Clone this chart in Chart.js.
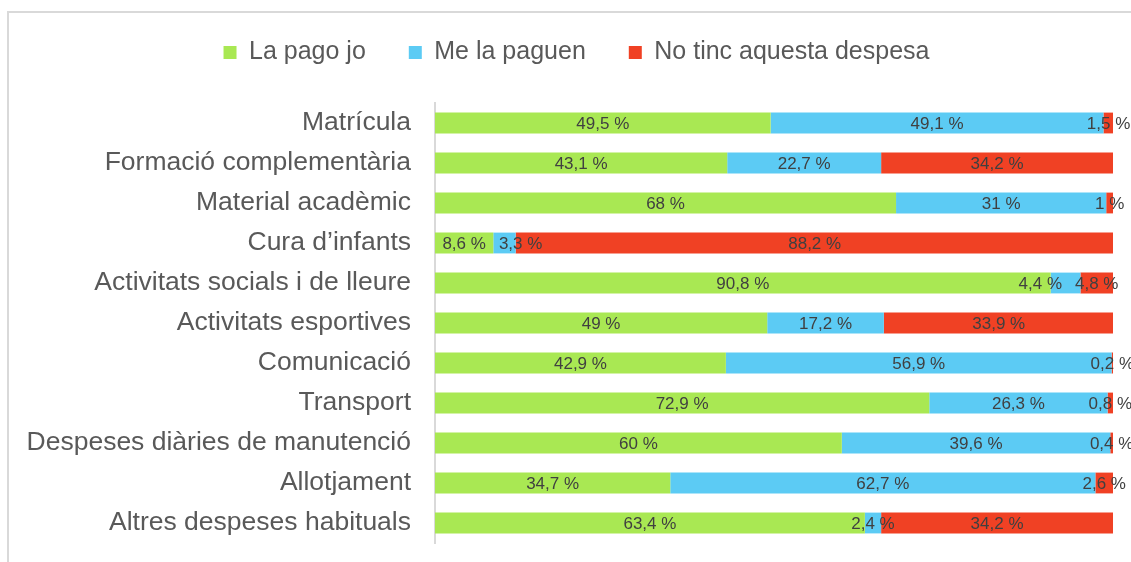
<!DOCTYPE html>
<html>
<head>
<meta charset="utf-8">
<script src="https://cdn.jsdelivr.net/npm/chart.js@4.4.1/dist/chart.umd.min.js"></script>
<style>
  html, body { margin: 0; padding: 0; background: #ffffff; overflow: hidden; width: 1131px; height: 562px; }
  #frame { position: absolute; left: 7px; top: 11px; width: 1200px; height: 600px; border: 2px solid #d9d9d9; box-sizing: border-box; }
  #c { position: absolute; left: 0; top: -3px; }
</style>
</head>
<body>
<div id="frame"></div>
<canvas id="c" width="1131" height="565"></canvas>
<script>
const categories = [
  "Matrícula",
  "Formació complementària",
  "Material acadèmic",
  "Cura d’infants",
  "Activitats socials i de lleure",
  "Activitats esportives",
  "Comunicació",
  "Transport",
  "Despeses diàries de manutenció",
  "Allotjament",
  "Altres despeses habituals"
];
const seriesNames = ["La pago jo", "Me la paguen", "No tinc aquesta despesa"];
const laPagoJo     = [49.5, 43.1, 68, 8.6, 90.8, 49, 42.9, 72.9, 60, 34.7, 63.4];
const meLaPaguen   = [49.1, 22.7, 31, 3.3, 4.4, 17.2, 56.9, 26.3, 39.6, 62.7, 2.4];
const noTinc       = [1.5, 34.2, 1, 88.2, 4.8, 33.9, 0.2, 0.8, 0.4, 2.6, 34.2];
const colors = ["#a9e853", "#5ccbf4", "#f04124"];

const FONT = "'Liberation Sans', Arial, sans-serif";

function fmt(v) { return String(v).replace('.', ',') + ' %'; }

const labelPlugin = {
  id: 'segLabels',
  afterDatasetsDraw(chart) {
    const ctx = chart.ctx;
    ctx.save();
    ctx.font = '17px ' + FONT;
    ctx.fillStyle = '#404040';
    ctx.textAlign = 'center';
    ctx.textBaseline = 'middle';
    const gap = 13;
    const n = chart.data.labels.length;
    for (let i = 0; i < n; i++) {
      const items = [];
      chart.data.datasets.forEach((ds, d) => {
        const meta = chart.getDatasetMeta(d);
        const el = meta.data[i];
        if (!el) return;
        const text = fmt(ds.data[i]);
        items.push({ cx: (el.x + el.base) / 2, y: el.y, text, w: ctx.measureText(text).width });
      });
      for (let k = 1; k < items.length; k++) {
        const prev = items[k - 1], cur = items[k];
        const minLeft = prev.cx + prev.w / 2 + gap;
        if (cur.cx - cur.w / 2 < minLeft) {
          const newcx = minLeft + cur.w / 2;
          if (newcx + cur.w / 2 <= chart.chartArea.right) {
            cur.cx = newcx;
          } else {
            prev.cx = cur.cx - cur.w / 2 - gap - prev.w / 2;
          }
        }
      }
      items.forEach(it => ctx.fillText(it.text, it.cx, it.y + 1));
    }
    ctx.restore();
  }
};

const legendPlugin = {
  id: 'legendTweak',
  beforeInit(chart) {
    const origFit = chart.legend.fit;
    chart.legend.fit = function () {
      origFit.call(this);
      this.height = 106;
    };
  },
  afterLayout(chart) {
    const lg = chart.legend;
    lg.left += 10;
    lg.right += 10;
  }
};

new Chart(document.getElementById('c'), {
  type: 'bar',
  data: {
    labels: categories,
    datasets: [
      { label: seriesNames[0], data: laPagoJo, backgroundColor: colors[0] },
      { label: seriesNames[1], data: meLaPaguen, backgroundColor: colors[1] },
      { label: seriesNames[2], data: noTinc, backgroundColor: colors[2] }
    ]
  },
  options: {
    indexAxis: 'y',
    responsive: false,
    animation: false,
    layout: { padding: { left: 20, right: 18, top: 0, bottom: 19 } },
    datasets: { bar: { barPercentage: 0.52, categoryPercentage: 1 } },
    scales: {
      x: { stacked: true, min: 0, max: 100, display: false },
      y: {
        stacked: true,
        grid: { display: false, drawTicks: false, tickLength: 0 },
        border: { display: true, color: '#d9d9d9', width: 2 },
        ticks: { color: '#595959', font: { family: FONT, size: 26.5 }, padding: 24, autoSkip: false },
        afterFit(scale) {
          scale.width = 415;
          scale.paddingTop = 0;
          scale.paddingBottom = 0;
        }
      }
    },
    plugins: {
      tooltip: { enabled: false },
      legend: {
        position: 'top',
        labels: {
          color: '#595959',
          font: { family: FONT, size: 25 },
          boxWidth: 13,
          boxHeight: 13,
          padding: 43
        }
      }
    }
  },
  plugins: [labelPlugin, legendPlugin]
});
</script>
</body>
</html>
